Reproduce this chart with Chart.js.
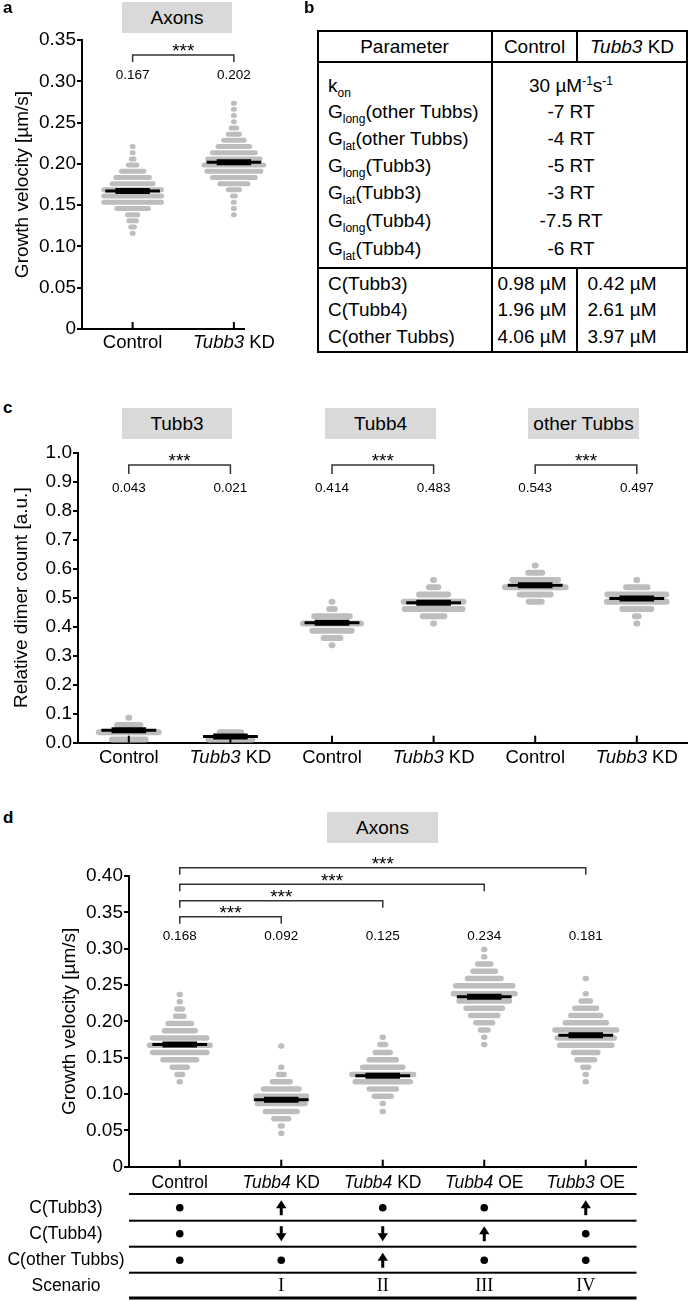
<!DOCTYPE html>
<html>
<head>
<meta charset="utf-8">
<script src="https://cdn.jsdelivr.net/npm/chart.js@4.4.1/dist/chart.umd.min.js"></script>
<style>
  body { margin: 0; background: #fff; font-family: "Liberation Sans", Arial, sans-serif; color: #000 }
  #page { position: relative; width: 690px; height: 1301px; overflow: hidden }
  canvas { position: absolute }
  .panel { position: absolute; font-weight: bold; font-size: 17px }
  .tag { position: absolute; background: #d9d9d9; font-size: 19px; text-align: center; line-height: 31px; height: 31px }
  .cell { position: absolute; font-size: 19px; white-space: nowrap; line-height: 22px; height: 22px }
  .ln { position: absolute; background: #000 }
  sub { font-size: 12px; line-height: 0; vertical-align: -5px }
  sup { font-size: 12px; line-height: 0; vertical-align: 7px }
</style>
</head>
<body>
<div id="page">
  <canvas id="chartA" width="300" height="370" style="left:0;top:0"></canvas>
  <canvas id="chartC" width="690" height="340" style="left:0;top:440px"></canvas>
  <canvas id="chartD" width="690" height="456" style="left:0;top:845px"></canvas>

  <div class="panel" style="left:3px;top:-2px">a</div>
  <div class="panel" style="left:304px;top:-2px">b</div>
  <div class="panel" style="left:3px;top:398px">c</div>
  <div class="panel" style="left:3px;top:808px">d</div>

  <div class="tag" style="left:122px;top:2px;width:110px">Axons</div>
  <div class="tag" style="left:122px;top:408px;width:110px">Tubb3</div>
  <div class="tag" style="left:325px;top:408px;width:111px">Tubb4</div>
  <div class="tag" style="left:528px;top:408px;width:111px">other Tubbs</div>
  <div class="tag" style="left:327px;top:812px;width:111px">Axons</div>

  <div id="tableB"></div>
</div>
<script>
// ---- panel a: growth velocity, axons
const catsA = ["Control", "Tubb3 KD"]
const meansA = [0.167, 0.202]
const binsA = [
  [0.221, 0.2135, 0.206, 0.1985, 0.191, 0.1835, 0.176, 0.1685, 0.161, 0.1535, 0.146, 0.1385, 0.131, 0.1235, 0.116],
  [0.2735, 0.266, 0.2585, 0.251, 0.2435, 0.236, 0.2285, 0.221, 0.2135, 0.206, 0.1985, 0.191, 0.1835, 0.176, 0.1685, 0.161, 0.1535, 0.146, 0.1385]
]
const countsA = [
  [1, 1, 3, 9, 24, 36, 44, 62, 62, 62, 34, 11, 8, 4, 1],
  [1, 1, 1, 1, 6, 12, 22, 34, 46, 56, 64, 58, 46, 30, 12, 3, 1, 1, 1]
]
const ticksA = [0, 0.05, 0.1, 0.15, 0.2, 0.25, 0.3, 0.35]

// ---- panel b: model parameters
const paramNames = [["k", "on", ""], ["G", "long", "(other Tubbs)"], ["G", "lat", "(other Tubbs)"], ["G", "long", "(Tubb3)"],
  ["G", "lat", "(Tubb3)"], ["G", "long", "(Tubb4)"], ["G", "lat", "(Tubb4)"]]
const paramValues = ["30 µM<sup>-1</sup>s<sup>-1</sup>", "-7 RT", "-4 RT", "-5 RT", "-3 RT", "-7.5 RT", "-6 RT"]
const concNames = ["C(Tubb3)", "C(Tubb4)", "C(other Tubbs)"]
const concControl = ["0.98 µM", "1.96 µM", "4.06 µM"]
const concKD = ["0.42 µM", "2.61 µM", "3.97 µM"]

// ---- panel c: relative dimer count
const catsC = ["Control", "Tubb3 KD", "Control", "Tubb3 KD", "Control", "Tubb3 KD"]
const meansC = [0.043, 0.021, 0.414, 0.483, 0.543, 0.497]
const binsC = [
  [0.086, 0.061, 0.036, 0.011],
  [0.036, 0.011],
  [0.486, 0.461, 0.436, 0.411, 0.386, 0.361, 0.336],
  [0.561, 0.536, 0.511, 0.486, 0.461, 0.436, 0.411],
  [0.611, 0.586, 0.561, 0.536, 0.511, 0.486],
  [0.561, 0.536, 0.511, 0.486, 0.461, 0.436, 0.411]
]
const countsC = [
  [1, 25, 64, 36],
  [23, 47],
  [1, 6, 38, 62, 42, 18, 1],
  [1, 10, 31, 64, 62, 23, 1],
  [1, 15, 49, 65, 33, 14],
  [1, 23, 63, 64, 31, 4, 1]
]
const ticksC = [0, 0.05, 0.1, 0.15, 0.2, 0.25, 0.3, 0.35, 0.4, 0.45, 0.5, 0.55, 0.6, 0.65, 0.7, 0.75, 0.8, 0.85, 0.9, 0.95, 1.0]

// ---- panel d: growth velocity per scenario
const catsD = ["Control", "Tubb4 KD", "Tubb4 KD", "Tubb4 OE", "Tubb3 OE"]
const meansD = [0.168, 0.092, 0.125, 0.234, 0.181]
const binsD = [
  [0.237, 0.227, 0.217, 0.207, 0.197, 0.187, 0.177, 0.167, 0.157, 0.147, 0.137, 0.127, 0.117],
  [0.166, 0.137, 0.127, 0.117, 0.107, 0.097, 0.087, 0.076, 0.066, 0.056, 0.046],
  [0.178, 0.168, 0.157, 0.147, 0.137, 0.127, 0.117, 0.107, 0.097, 0.087, 0.076],
  [0.299, 0.289, 0.279, 0.269, 0.259, 0.249, 0.238, 0.228, 0.218, 0.208, 0.198, 0.188, 0.178, 0.168],
  [0.259, 0.238, 0.228, 0.218, 0.208, 0.198, 0.188, 0.177, 0.167, 0.157, 0.147, 0.137, 0.127, 0.117]
]
const countsD = [
  [1, 1, 6, 9, 25, 33, 58, 65, 58, 36, 16, 6, 1],
  [1, 1, 6, 19, 38, 54, 51, 34, 16, 2, 1],
  [1, 6, 16, 29, 43, 66, 59, 29, 18, 1, 1],
  [1, 1, 14, 24, 36, 61, 66, 54, 39, 29, 18, 8, 1, 1],
  [1, 1, 10, 23, 32, 44, 66, 61, 56, 26, 19, 6, 1, 1]
]
const ticksD = [0, 0.05, 0.1, 0.15, 0.2, 0.25, 0.3, 0.35, 0.4]
const tableRows = ["C(Tubb3)", "C(Tubb4)", "C(other Tubbs)"]
const tubb3Change = ["same", "up", "same", "same", "up"]
const tubb4Change = ["same", "down", "down", "up", "same"]
const otherChange = ["same", "same", "up", "same", "same"]
const scenarios = ["", "I", "II", "III", "IV"]

const SANS = "'Liberation Sans', Arial, sans-serif"
const SERIF = "'Liberation Serif', 'Times New Roman', serif"
const GRAY = "#bdbdbd"
const DOT = 0.0092      // x units per simulation in a row
const MEAN_HALF = 0.27
const CORE_HALF = 0.17

// panel b, built as plain html
function buildTable() {
  const box = document.getElementById("tableB")
  const line = (l, t, w, h) => { box.insertAdjacentHTML("beforeend", `<div class="ln" style="left:${l}px;top:${t}px;width:${w}px;height:${h}px"></div>`) }
  const cell = (html, y, left, width, align) => {
    box.insertAdjacentHTML("beforeend", `<div class="cell" style="left:${left}px;top:${y - 11}px;width:${width}px;text-align:${align}">${html}</div>`)
  }
  line(317, 30, 371, 2); line(317, 351, 371, 2); line(317, 30, 2, 323); line(686, 30, 2, 323)
  line(317, 61, 371, 2); line(317, 267, 371, 2)
  line(491, 30, 2, 323); line(576, 30, 2, 32); line(576, 267, 2, 86)
  cell("Parameter", 47, 318, 173, "center")
  cell("Control", 47, 492, 85, "center")
  cell("<i>Tubb3</i> KD", 47, 577, 110, "center")
  const py = [86, 112, 139, 166, 193, 221, 249]
  paramNames.forEach((p, i) => {
    cell(`${p[0]}<sub>${p[1]}</sub>${p[2]}`, py[i], 328, 160, "left")
    cell(paramValues[i], py[i], 491, 160, "center")
  })
  const cy = [284, 310, 337]
  concNames.forEach((n, i) => {
    cell(n, cy[i], 328, 160, "left")
    cell(concControl[i], cy[i], 488, 88, "center")
    cell(concKD[i], cy[i], 578, 88, "center")
  })
}
buildTable()

function drawCatLabel(ctx, label, cx, cy, size) {
  const words = label.split(" ")
  const parts = label === "Control" ? [[label, false]] : [[words[0], true], [" " + words.slice(1).join(" "), false]]
  const fonts = parts.map(p => (p[1] ? "italic " : "") + size + "px " + SANS)
  let total = 0
  parts.forEach((p, i) => { ctx.font = fonts[i]; total += ctx.measureText(p[0]).width })
  let x0 = cx - total / 2
  ctx.textAlign = "left"
  ctx.textBaseline = "middle"
  parts.forEach((p, i) => {
    ctx.font = fonts[i]
    ctx.fillText(p[0], x0, cy)
    x0 += ctx.measureText(p[0]).width
  })
}

function drawSymbol(ctx, kind, x, cy) {
  ctx.fillStyle = "#000"
  if (kind === "same") {
    ctx.beginPath(); ctx.arc(x, cy, 3.8, 0, Math.PI * 2); ctx.fill()
    return
  }
  const d = kind === "up" ? -1 : 1
  const tip = cy + d * 7.5
  ctx.beginPath()
  ctx.moveTo(x, tip); ctx.lineTo(x - 5.2, tip - d * 8); ctx.lineTo(x + 5.2, tip - d * 8); ctx.closePath(); ctx.fill()
  ctx.fillRect(x - 1.5, Math.min(cy, cy - d * 7.5), 3, 7.5)
}

// annotations drawn through the chart scales
function decor(cfg) {
  return {
    id: "decor",
    afterDraw(chart) {
      const ctx = chart.ctx, xs = chart.scales.x, ys = chart.scales.y
      const area = chart.chartArea
      ctx.save()
      ctx.fillStyle = "#000"
      ctx.strokeStyle = "#000"
      cfg.cats.forEach((c, i) => {
        const px = xs.getPixelForValue(i + 0.5)
        ctx.lineWidth = 2
        ctx.beginPath(); ctx.moveTo(px, area.bottom); ctx.lineTo(px, area.bottom - 7); ctx.stroke()
        drawCatLabel(ctx, c, px, area.bottom + cfg.labelGap, cfg.labelSize)
        ctx.font = "13.5px " + SANS
        ctx.textAlign = "center"
        ctx.textBaseline = "middle"
        ctx.fillText(cfg.means[i].toFixed(3), px, ys.getPixelForValue(cfg.valueLevel))
      })
      cfg.brackets.forEach(b => {
        const x1 = xs.getPixelForValue(b[0] + 0.5), x2 = xs.getPixelForValue(b[1] + 0.5)
        const yl = ys.getPixelForValue(b[2])
        ctx.strokeStyle = "#333"
        ctx.lineWidth = 1.5
        ctx.beginPath()
        ctx.moveTo(x1, yl + cfg.drop); ctx.lineTo(x1, yl); ctx.lineTo(x2, yl); ctx.lineTo(x2, yl + cfg.drop)
        ctx.stroke()
        ctx.font = "19px " + SANS
        ctx.textAlign = "center"
        ctx.textBaseline = "middle"
        ctx.fillText("***", (x1 + x2) / 2, yl - 3)
      })
      if (cfg.table) {
        const lines = [27.3, 54, 80, 106, 131.3]
        const mids = [41, 67, 93.5, 119.5]
        lines.forEach((o, k) => {
          ctx.fillRect(area.left, area.bottom + o - (k === 4 ? 1.5 : 1), area.right - area.left, k === 4 ? 3 : 2)
        })
        ctx.font = "17.5px " + SANS
        ctx.textAlign = "center"
        ctx.textBaseline = "middle"
        tableRows.concat(["Scenario"]).forEach((r, k) => ctx.fillText(r, 66, area.bottom + mids[k]))
        const rows = [tubb3Change, tubb4Change, otherChange]
        cfg.cats.forEach((c, i) => {
          const px = xs.getPixelForValue(i + 0.5)
          rows.forEach((r, k) => drawSymbol(ctx, r[i], px, area.bottom + mids[k]))
          ctx.font = "18px " + SERIF
          ctx.textAlign = "center"
          ctx.fillText(scenarios[i], px, area.bottom + mids[3])
        })
      }
      ctx.restore()
    }
  }
}

function stripDatasets(bins, counts, means, rowW) {
  const thin = [], thick = [], rows = []
  means.forEach((m, i) => {
    const c = i + 0.5
    thin.push({ x: c - MEAN_HALF, y: m }, { x: c + MEAN_HALF, y: m }, { x: c, y: null })
    thick.push({ x: c - CORE_HALF, y: m }, { x: c + CORE_HALF, y: m }, { x: c, y: null })
  })
  bins.forEach((b, i) => b.forEach((v, k) => {
    const h = counts[i][k] * DOT / 2
    rows.push({ x: i + 0.5 - h, y: v }, { x: i + 0.5 + h, y: v }, { x: i + 0.5, y: null })
  }))
  return [
    { data: thick, borderColor: "#000", borderWidth: 6, borderCapStyle: "butt" },
    { data: thin, borderColor: "#000", borderWidth: 3, borderCapStyle: "butt" },
    { data: rows, borderColor: GRAY, borderWidth: rowW, borderCapStyle: "round" }
  ].map(s => Object.assign({ pointRadius: 0, spanGaps: false, tension: 0, fill: false, clip: false }, s))
}

function stripChart(id, cfg) {
  return new Chart(document.getElementById(id), {
    type: "line",
    data: { datasets: stripDatasets(cfg.bins, cfg.counts, cfg.means, cfg.rowW) },
    options: {
      responsive: false,
      animation: false,
      devicePixelRatio: 1,
      events: [],
      layout: { padding: { left: 0, top: cfg.padTop, right: cfg.padRight, bottom: 0 } },
      plugins: { legend: { display: false }, tooltip: { enabled: false } },
      scales: {
        x: {
          type: "linear", min: 0, max: cfg.xMax,
          grid: { display: false, drawTicks: false },
          border: { display: true, color: "#000", width: 2 },
          ticks: { display: false },
          afterFit: s => { s.height = cfg.xH }
        },
        y: {
          type: "linear", min: 0, max: cfg.ticks[cfg.ticks.length - 1],
          afterBuildTicks: s => { s.ticks = cfg.ticks.map(v => ({ value: v })) },
          ticks: { color: "#000", padding: 1, font: { family: SANS, size: 19 }, callback: cfg.fmt },
          grid: { drawOnChartArea: false, tickLength: 5, color: "#000", lineWidth: 2 },
          border: { color: "#000", width: 2 },
          title: { display: true, text: cfg.title, color: "#000", font: { family: SANS, size: 19 }, padding: { top: cfg.titlePad, bottom: 0 } },
          afterFit: s => { s.width = cfg.yW }
        }
      }
    },
    plugins: [decor(cfg)]
  })
}

const fmt2 = v => (v === 0 ? "0" : v.toFixed(2))

stripChart("chartA", {
  cats: catsA, means: meansA, bins: binsA, counts: countsA, ticks: ticksA, fmt: fmt2,
  title: "Growth velocity [µm/s]", titlePad: 11.6, rowW: 5,
  padTop: 40, padRight: 56, xH: 41, yW: 82, xMax: 1.6,
  labelGap: 13.5, labelSize: 18.5, valueLevel: 0.3075, drop: 7,
  brackets: [[0, 1, 0.3317]]
})

stripChart("chartC", {
  cats: catsC, means: meansC, bins: binsC, counts: countsC, ticks: ticksC,
  fmt: v => (Math.round(v * 100) % 10 === 0 ? v.toFixed(1) : ""),
  title: "Relative dimer count [a.u.]", titlePad: 10.6, rowW: 6,
  padTop: 12.7, padRight: 2.4, xH: 37.3, yW: 78, xMax: 6,
  labelGap: 15.5, labelSize: 18.5, valueLevel: 0.878, drop: 9,
  brackets: [[0, 1, 0.9576], [2, 3, 0.9576], [4, 5, 0.9576]]
})

stripChart("chartD", {
  cats: catsD, means: meansD, bins: binsD, counts: countsD, ticks: ticksD, fmt: fmt2,
  title: "Growth velocity [µm/s]", titlePad: 58.6, rowW: 5.5,
  padTop: 31, padRight: 53.5, xH: 134.3, yW: 129, xMax: 5,
  labelGap: 16, labelSize: 17.5, valueLevel: 0.3175, drop: 7,
  brackets: [[0, 4, 0.4115], [0, 3, 0.3886], [0, 2, 0.366], [0, 1, 0.344]],
  table: true
})
</script>
</body>
</html>
